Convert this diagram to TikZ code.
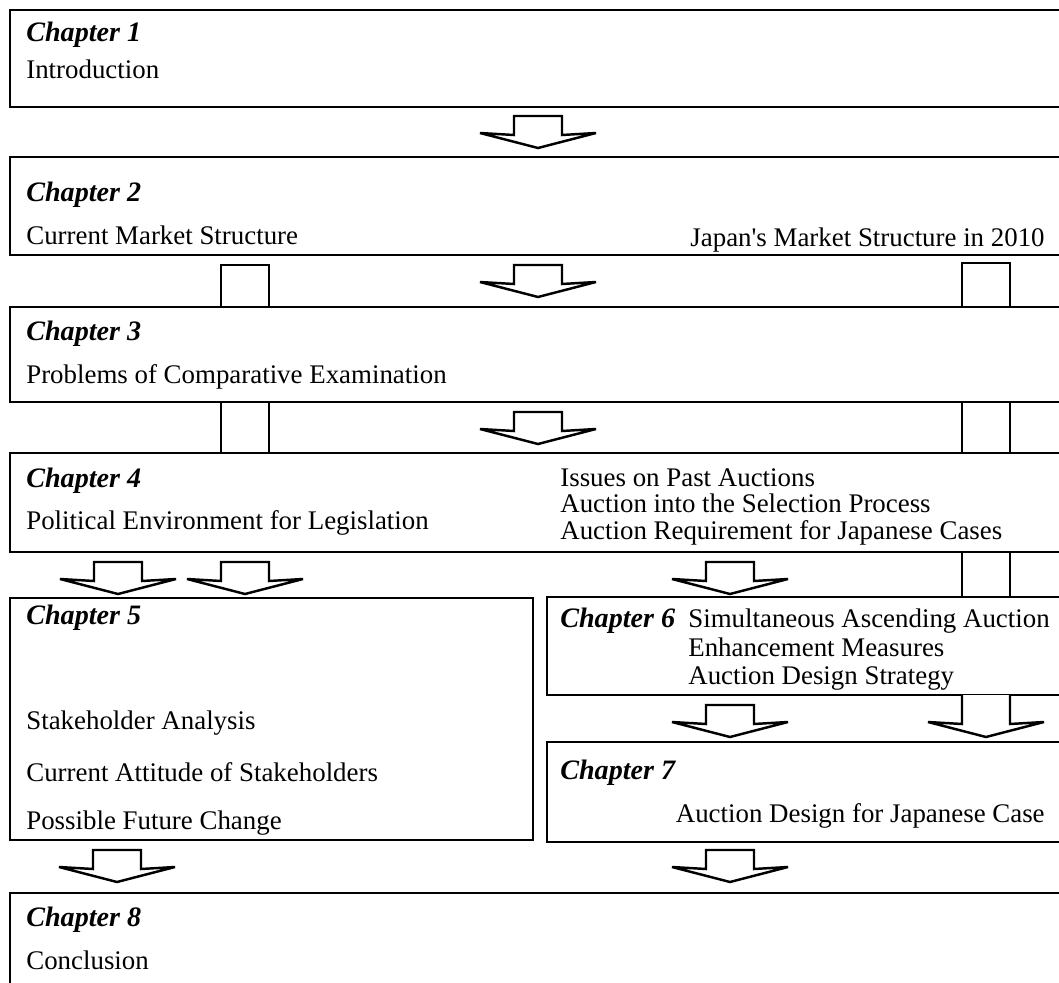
\documentclass[tikz,border=0pt]{standalone}
\usepackage{fontspec}
\setmainfont{Liberation Serif}
\usetikzlibrary{calc}

\begin{document}
\begin{tikzpicture}[x=0.02cm,y=-0.02cm,
		font=\fontsize{15.3}{18}\selectfont,
		box/.style={draw,line width=1.1pt},
		chap/.style={anchor=base west,inner sep=0pt,font=\fontsize{16}{19}\selectfont\bfseries\itshape},
		txt/.style={anchor=base west,inner sep=0pt},
		rtxt/.style={anchor=base east,inner sep=0pt},
		blk/.style={draw,line width=1.4pt,line join=miter,fill=white}]
	
	\useasboundingbox (0,0) rectangle (1059,983);
	\clip (0,0) rectangle (1059,983);
	
	% Chapter frames (right side runs off the page)
	\draw[box] (10,10) rectangle (1090,107);
	\draw[box] (10,157) rectangle (1090,255);
	\draw[box] (10,307) rectangle (1090,402);
	\draw[box] (10,453) rectangle (1090,552);
	\draw[box] (10,598) rectangle (533,840);
	\draw[box] (547,597) rectangle (1090,695);
	\draw[box] (547,742) rectangle (1090,842);
	\draw[box] (10,893) rectangle (1090,1010);
	
	% Long stems passing behind the frames
	\draw[blk,fill=none] (221,307) -- (221,265) -- (269,265) -- (269,307);
	\draw[blk,fill=none] (962,307) -- (962,263) -- (1010,263) -- (1010,307);
	\foreach \sx in {221,269,962,1010} {
		\draw[blk] (\sx,402) -- (\sx,453);
	}
	\foreach \sx in {962,1010} {
		\draw[blk] (\sx,552) -- (\sx,597);
	}
	\draw[blk] (962,695) -- (962,724) -- (928,722) -- (986,737) -- (1044,722) -- (1010,724) -- (1010,695);
	
	% Block arrows: centre x / top y
	\foreach \cx/\ty in {538/116, 538/265, 538/412, 118/562, 245/562, 730/562, 730/705, 117/850, 730/850} {
		\draw[blk] (\cx-24,\ty) -- (\cx+24,\ty) -- (\cx+24,\ty+19) -- (\cx+58,\ty+17)
		-- (\cx,\ty+32) -- (\cx-58,\ty+17) -- (\cx-24,\ty+19) -- cycle;
	}
	
	% Chapter 1
	\node[chap] (c1) at (26,42) {Chapter 1};
	\node[txt] (intro) at (26,79) {Introduction};
	
	% Chapter 2
	\node[chap] (c2) at (26,202) {Chapter 2};
	\node[txt] (curmkt) at (26,245) {Current Market Structure};
	\node[rtxt] (japmkt) at (1045,247) {Japan\textquotesingle s Market Structure in 2010};
	
	% Chapter 3
	\node[chap] (c3) at (26,341) {Chapter 3};
	\node[txt] (probs) at (26,384) {Problems of Comparative Examination};
	
	% Chapter 4
	\node[chap] (c4) at (26,487) {Chapter 4};
	\node[txt] (polenv) at (26,529) {Political Environment for Legislation};
	\node[txt] (issues) at (560,486) {Issues on Past Auctions};
	\node[txt] (selproc) at (560,512) {Auction into the Selection Process};
	\node[txt] (auctreq) at (560,539) {Auction Requirement for Japanese Cases};
	
	% Chapter 5
	\node[chap] (c5) at (26,624) {Chapter 5};
	\node[txt] (stake) at (26,729) {Stakeholder Analysis};
	\node[txt] (attit) at (26,781) {Current Attitude of Stakeholders};
	\node[txt] (future) at (26,829) {Possible Future Change};
	
	% Chapter 6
	\node[chap] (c6) at (560,627) {Chapter 6};
	\node[txt] (simasc) at (688,627) {Simultaneous Ascending Auction};
	\node[txt] (enhance) at (688,656) {Enhancement Measures};
	\node[txt] (strat) at (688,684) {Auction Design Strategy};
	
	% Chapter 7
	\node[chap] (c7) at (560,779) {Chapter 7};
	\node[rtxt] (jpcase) at (1045,822) {Auction Design for Japanese Case};
	
	% Chapter 8
	\node[chap] (c8) at (26,926) {Chapter 8};
	\node[txt] (concl) at (26,969) {Conclusion};
	
\end{tikzpicture}
\end{document}
